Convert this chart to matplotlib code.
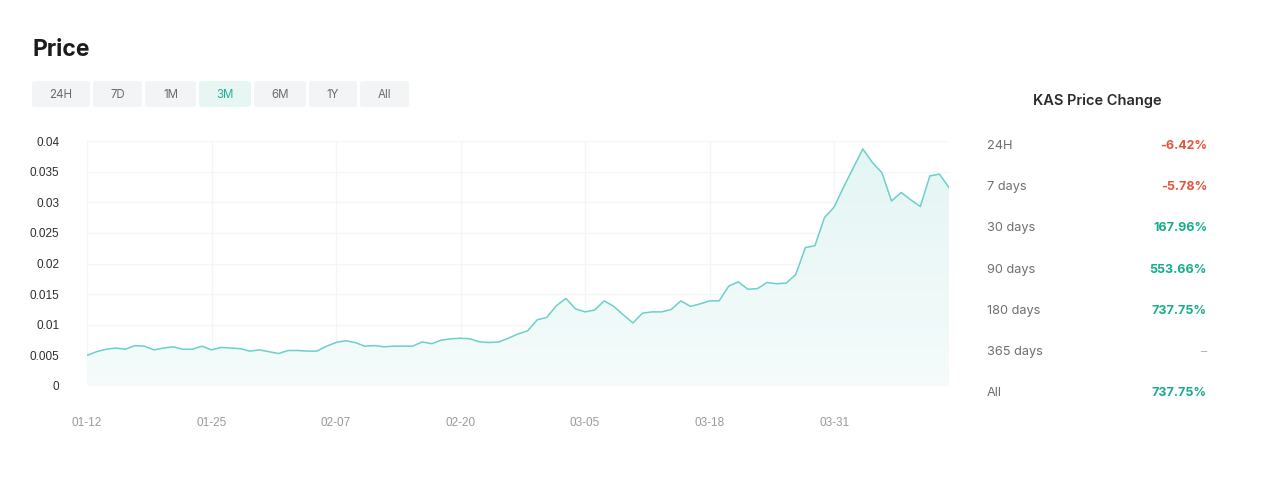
import numpy as np
import pandas as pd
import matplotlib
matplotlib.use("Agg")
import matplotlib.pyplot as plt
import matplotlib.dates as mdates
from matplotlib.patches import FancyBboxPatch

# daily KAS price, 01-12 .. 04-11
dates = pd.date_range("2023-01-12", periods=91, freq="D")
prices = [
    0.0050, 0.0056, 0.0060, 0.0062, 0.0060, 0.0066, 0.0065, 0.0059, 0.0062, 0.0064,
    0.0060, 0.0060, 0.0065, 0.0059, 0.0063, 0.0062, 0.0061, 0.0057, 0.0059, 0.0056,
    0.0053, 0.0058, 0.0058, 0.0057, 0.0057, 0.0065, 0.0071, 0.0074, 0.0071, 0.0065,
    0.0066, 0.0064, 0.0065, 0.0065, 0.0065, 0.0072, 0.0069, 0.0075, 0.0077, 0.0078,
    0.0077, 0.0072, 0.0071, 0.0072, 0.0078, 0.0085, 0.0090, 0.0108, 0.0112, 0.0131,
    0.0143, 0.0126, 0.0121, 0.0124, 0.0139, 0.0130, 0.0116, 0.0103, 0.0119, 0.0121,
    0.0121, 0.0125, 0.0139, 0.0130, 0.0134, 0.0139, 0.0139, 0.0163, 0.0170, 0.0158,
    0.0159, 0.0169, 0.0167, 0.0168, 0.0182, 0.0226, 0.0229, 0.0275, 0.0292, 0.0325,
    0.0356, 0.0387, 0.0365, 0.0348, 0.0302, 0.0316, 0.0304, 0.0293, 0.0343, 0.0346,
    0.0324,
]
x_ticks = ["2023-01-12", "2023-01-25", "2023-02-07", "2023-02-20",
           "2023-03-05", "2023-03-18", "2023-03-31"]
y_ticks = [0, 0.005, 0.01, 0.015, 0.02, 0.025, 0.03, 0.035, 0.04]
y_labels = ["0", "0.005", "0.01", "0.015", "0.02", "0.025", "0.03", "0.035", "0.04"]

buttons = ["24H", "7D", "1M", "3M", "6M", "1Y", "All"]
selected = "3M"

change_labels = ["24H", "7 days", "30 days", "90 days", "180 days", "365 days", "All"]
change_values = ["-6.42%", "-5.78%", "167.96%", "553.66%", "737.75%", "–", "737.75%"]

W, H = 1267, 480
UI = ["Inter", "DejaVu Sans"]
TICK = ["Liberation Sans", "DejaVu Sans"]
TEAL = "#6bd0ca"
RED = "#e4533c"
GREEN = "#17ad8c"

fig = plt.figure(figsize=(W / 100, H / 100), dpi=100)
fig.patch.set_facecolor("white")


def fx(x):
    return x / W


def fy(y):
    return 1 - y / H


# header
fig.text(fx(32), fy(50), "Price", fontsize=16.5, fontweight="bold", color="#1b1b1b",
         family=UI, va="center", ha="left")

btn_edges = [(32, 90), (93, 142), (145, 196), (199, 251), (254, 306), (309, 357), (360, 409)]
for name, (x0, x1) in zip(buttons, btn_edges):
    on = name == selected
    box = FancyBboxPatch((fx(x0), fy(107)), fx(x1 - x0), (107 - 81) / H,
                         boxstyle="round,pad=0,rounding_size=0.004",
                         transform=fig.transFigure, facecolor="#e8f6f3" if on else "#f3f4f6",
                         edgecolor="none")
    fig.add_artist(box)
    fig.text(fx((x0 + x1) / 2), fy(94.5), name, fontsize=8.3, family=UI,
             color="#22b197" if on else "#6b6b6b", ha="center", va="center")

# price chart
ax = fig.add_axes([fx(87), fy(386), fx(949 - 87), (386 - 141) / H])
xs = mdates.date2num(dates)
ys = np.array(prices)

ax.set_xlim(xs[0], xs[-1])
ax.set_ylim(0, 0.04)

fill = ax.fill_between(xs, ys, 0, color="none", lw=0)
grad = np.linspace(0, 1, 256).reshape(-1, 1)
top = np.array([0.89, 0.963, 0.955])
bottom = np.array([0.962, 0.985, 0.985])
img = bottom + (top - bottom) * grad
img = img.reshape(256, 1, 3)
im = ax.imshow(img, extent=[xs[0], xs[-1], 0, 0.04], origin="lower",
               aspect="auto", zorder=1)
im.set_clip_path(fill.get_paths()[0], transform=ax.transData)
ax.plot(xs, ys, color=TEAL, lw=1.1, zorder=3)

ax.set_xticks(mdates.date2num(pd.to_datetime(x_ticks)))
ax.xaxis.set_major_formatter(mdates.DateFormatter("%m-%d"))
ax.set_yticks(y_ticks)
ax.set_yticklabels(y_labels)
ax.grid(True, color="#f5f5f5", lw=0.9, zorder=0)
ax.set_axisbelow(True)
for s in ax.spines.values():
    s.set_visible(False)
ax.tick_params(axis="both", length=0)
ax.tick_params(axis="x", pad=22, labelsize=8.5, labelcolor="#9a9a9a")
ax.tick_params(axis="y", pad=20, labelsize=8.5, labelcolor="#2e2e2e")
for lab in ax.get_xticklabels() + ax.get_yticklabels():
    lab.set_family(TICK)

# price change panel
fig.text(fx(1097), fy(101), "KAS Price Change", fontsize=10.5, fontweight="semibold",
         color="#2a2a2a", family=UI, ha="center", va="center")
row_y = [146, 187, 228, 270, 311, 352, 393]
for lab, val, y in zip(change_labels, change_values, row_y):
    fig.text(fx(987), fy(y), lab, fontsize=9.2, color="#6f6f6f", family=UI,
             ha="left", va="center")
    if val.startswith("-"):
        c = RED
    elif val[0].isdigit():
        c = GREEN
    else:
        c = "#b5b5b5"
    fig.text(fx(1207), fy(y), val, fontsize=9, color=c, family=UI,
             fontweight="bold" if c != "#b5b5b5" else "normal", ha="right", va="center")

fig.savefig("out.png", dpi=100, facecolor="white")
